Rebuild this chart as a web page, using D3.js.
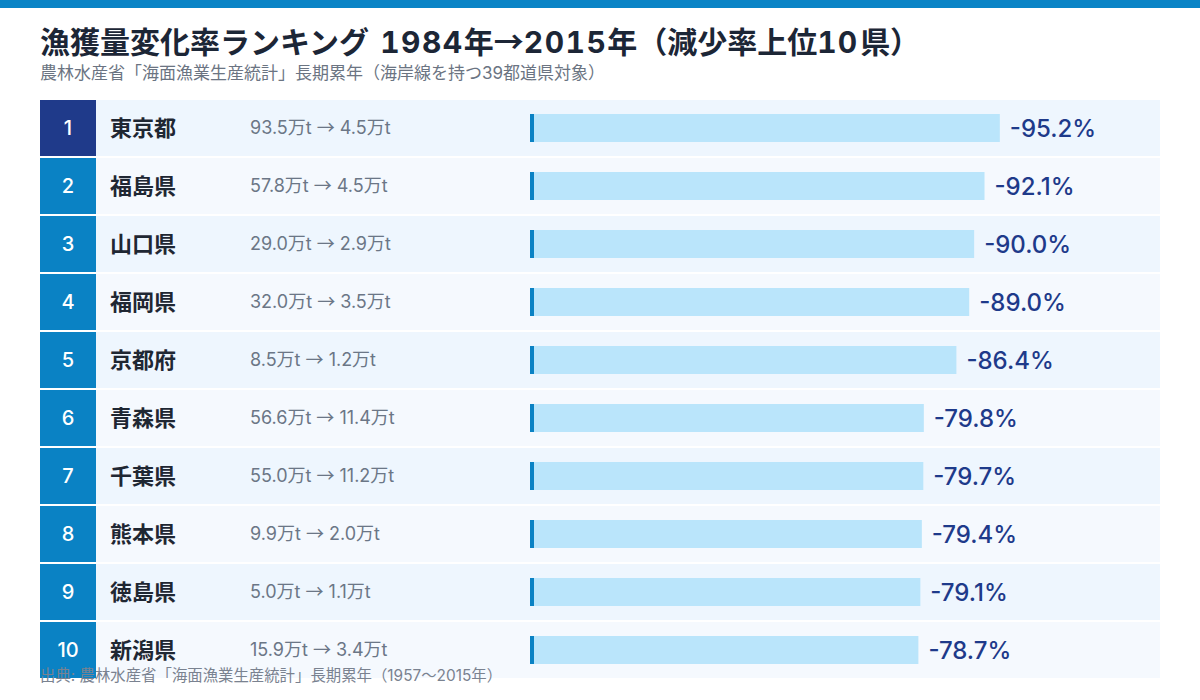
<!DOCTYPE html>
<html><head><meta charset="utf-8">
<script src="https://cdn.jsdelivr.net/npm/d3@7"></script>
<style>
html,body{margin:0;padding:0;background:#fff;}
svg{display:block;font-family:Inter,"Noto Sans CJK JP",sans-serif;}
.tab{font-variant-numeric:tabular-nums;}
.arr{font-family:"Noto Sans CJK JP",sans-serif;}
</style></head>
<body><svg id="c" width="1200" height="700"></svg>
<script>
const ranks = [1,2,3,4,5,6,7,8,9,10];
const prefectures = ["東京都","福島県","山口県","福岡県","京都府","青森県","千葉県","熊本県","徳島県","新潟県"];
const before1984 = [93.5,57.8,29.0,32.0,8.5,56.6,55.0,9.9,5.0,15.9];
const after2015 = [4.5,4.5,2.9,3.5,1.2,11.4,11.2,2.0,1.1,3.4];
const changeRates = [-95.2,-92.1,-90.0,-89.0,-86.4,-79.8,-79.7,-79.4,-79.1,-78.7];

const rows = ranks.map((r,i)=>({rank:r,name:prefectures[i],b:before1984[i],a:after2015[i],rate:changeRates[i]}));
const svg = d3.select("#c");

svg.append("rect").attr("x",0).attr("y",0).attr("width",1200).attr("height",8).attr("fill","#0a84c6");
const title = svg.append("text").attr("class","tab").attr("x",40).attr("y",53).attr("font-size",30).attr("font-weight","bold")
  .attr("fill","#1c2636");
title.append("tspan").text("漁獲量変化率ランキング ");
title.append("tspan").attr("dx",3).attr("letter-spacing",1.5).text("1984");
title.append("tspan").text("年");
title.append("tspan").attr("class","arr").text("→");
title.append("tspan").attr("letter-spacing",1.5).text("2015");
title.append("tspan").text("年（減少率上位");
title.append("tspan").attr("letter-spacing",1).text("10");
title.append("tspan").attr("dx",2).text("県）");
svg.append("text").attr("x",40).attr("y",79).attr("font-size",17).attr("fill","#6b7482")
  .text("農林水産省「海面漁業生産統計」長期累年（海岸線を持つ39都道県対象）");

const y = d3.scaleBand().domain(ranks).range([100,678]).paddingInner(2/58).paddingOuter(0);
const x = d3.scaleLinear().domain([0,100]).range([530,1023.5]);

const g = svg.selectAll("g.row").data(rows).join("g").attr("class","row")
  .attr("transform",d=>`translate(0,${y(d.rank)})`);
const bw = y.bandwidth();
g.append("rect").attr("x",40).attr("width",1120).attr("height",bw)
  .attr("fill",(d,i)=> i%2===0 ? "#eef6fe" : "#f5f9fe");
g.append("rect").attr("x",40).attr("width",56).attr("height",bw)
  .attr("fill",d=> d.rank===1 ? "#1f3a8a" : "#0a82c4");
g.append("text").attr("x",68).attr("y",bw/2).attr("dy","0.36em").attr("text-anchor","middle")
  .attr("font-size",20).attr("fill","#fff").attr("font-weight",500).text(d=>d.rank);
g.append("text").attr("x",110).attr("y",bw/2).attr("dy","0.36em")
  .attr("font-size",22).attr("font-weight","bold").attr("fill","#1f2733").text(d=>d.name);
const vt = g.append("text").attr("x",250).attr("y",bw/2).attr("dy","0.36em")
  .attr("font-size",18).attr("fill","#6b7686");
vt.append("tspan").text(d=>`${d.b.toFixed(1)}万t `);
vt.append("tspan").attr("class","arr").text("→");
vt.append("tspan").text(d=>` ${d.a.toFixed(1)}万t`);
const barH = 28;
g.append("rect").attr("x",x(0)).attr("y",(bw-barH)/2).attr("height",barH)
  .attr("width",d=>x(Math.abs(d.rate))-x(0)).attr("fill","#bae5fb");
g.append("rect").attr("x",x(0)).attr("y",(bw-barH)/2).attr("height",barH)
  .attr("width",4).attr("fill","#0a82c4");
g.append("text").attr("x",d=>x(Math.abs(d.rate))+10).attr("y",bw/2).attr("dy","0.36em")
  .attr("font-size",24).attr("font-weight",500).attr("fill","#1e3a8a")
  .text(d=>d.rate.toFixed(1)+"%");

svg.append("text").attr("x",40).attr("y",681).attr("font-size",15.4).attr("fill","#7a8290")
  .text("出典: 農林水産省「海面漁業生産統計」長期累年（1957〜2015年）");
</script></body></html>
